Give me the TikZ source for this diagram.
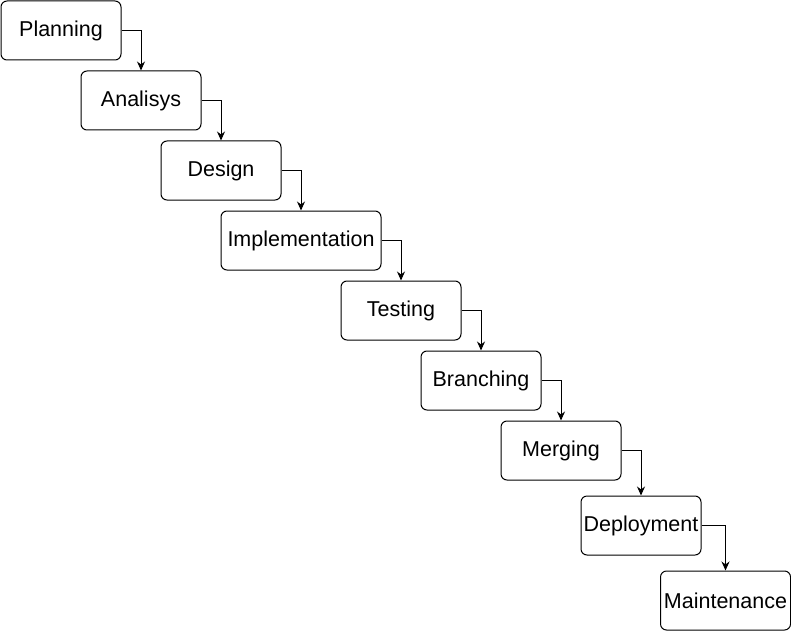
\documentclass[tikz,border=0pt]{standalone}
\usepackage{fontspec}
\setmainfont{Liberation Sans}
\usepackage{tikz}
\usetikzlibrary{arrows.meta}

\tikzset{
  stage/.style={draw, rounded corners=6pt, line width=1pt, minimum width=120pt,
    minimum height=59pt, inner sep=0pt, font=\fontsize{21.5pt}{24pt}\selectfont},
  flow/.style={line width=1pt, -{Stealth[length=9pt,width=8pt]}}
}

\begin{document}
\begin{tikzpicture}[x=1pt, y=-1pt]
            \useasboundingbox (0,0) rectangle (791,631);

            \node[stage] (s1) at (61, 30.5) {Planning};
            \node[stage] (s2) at (141, 100.5) {Analisys};
            \node[stage] (s3) at (221, 170.5) {Design};
            \node[stage, minimum width=160pt] (s4) at (301, 240.5) {Implementation};
            \node[stage] (s5) at (401, 310.5) {Testing};
            \node[stage] (s6) at (481, 380.5) {Branching};
            \node[stage] (s7) at (561, 450.5) {Merging};
            \node[stage] (s8) at (641, 525.5) {Deployment};
            \node[stage, minimum width=130pt] (s9) at (725.5, 600.5) {Maintenance};

            \draw[flow] (s1.east) -| (s2.north);
            \draw[flow] (s2.east) -| (s3.north);
            \draw[flow] (s3.east) -| (s4.north);
            \draw[flow] (s4.east) -| (s5.north);
            \draw[flow] (s5.east) -| (s6.north);
            \draw[flow] (s6.east) -| (s7.north);
            \draw[flow] (s7.east) -| (s8.north);
            \draw[flow] (s8.east) -| (s9.north);
        \end{tikzpicture}
\end{document}
